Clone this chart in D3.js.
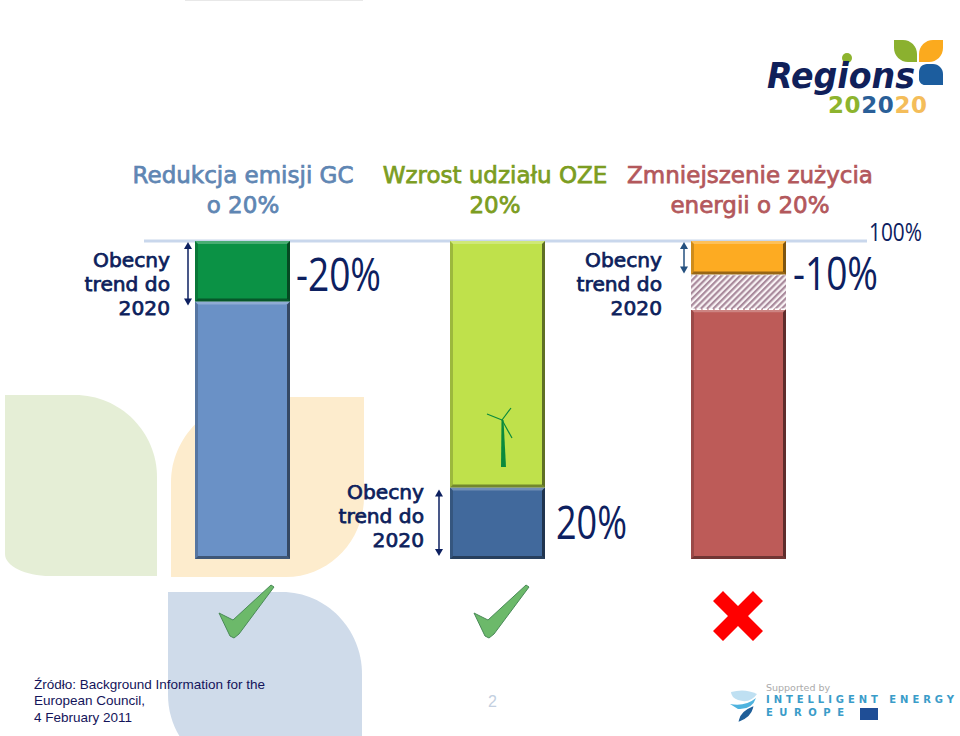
<!DOCTYPE html>
<html>
<head>
<meta charset="utf-8">
<script src="https://cdn.jsdelivr.net/npm/d3@7"></script>
<style>
html, body { margin: 0; padding: 0; background: #fff; }
svg { display: block; }
text { font-family: "DejaVu Sans", sans-serif; }
.head { font-size: 23px; text-anchor: middle; stroke-width: 0.75; }
.trend { font-size: 20.2px; fill: #0d1f5c; stroke: #0d1f5c; stroke-width: 0.75; text-anchor: end; }
.big { font-family: "Open Sans", sans-serif; font-size: 46px; fill: #0d2060; }
.src { font-family: "Liberation Sans", sans-serif; font-size: 13.5px; fill: #14145a; }
</style>
</head>
<body>
<svg id="chart" width="960" height="736"></svg>
<script>
// values, percent of the 100% line
var categories = ["Redukcja emisji GC", "Wzrost udziału OZE", "Zmniejszenie zużycia"];
var baseValues = [81, 22.5, 78.5];
var gapValues = [0, 0, 11];
var topValues = [19, 77.5, 10.5];
var baseColors = ["#6a91c6", "#41699c", "#bd5b58"];
var topColors = ["#0b9245", "#bfe14b", "#fdab22"];
var titleLines = [["Redukcja emisji GC", "o 20%"], ["Wzrost udziału OZE", "20%"], ["Zmniejszenie zużycia", "energii o 20%"]];
var titleColors = ["#5f86b3", "#7c9d22", "#b3585c"];
var trendLabel = ["Obecny", "trend do", "2020"];
var bigLabels = ["-20%", "20%", "-10%"];
var sourceLines = ["Źródło: Background Information for the", "European Council,", "4 February 2011"];

var svg = d3.select("#chart");

var y = d3.scaleLinear().domain([0, 100]).range([559, 241]);
var x = d3.scaleOrdinal().domain(categories).range([195, 450, 691]);
var barWidth = 95;

var defs = svg.append("defs");
var hatch = defs.append("pattern")
    .attr("id", "hatch")
    .attr("width", 4.4).attr("height", 4.4)
    .attr("patternUnits", "userSpaceOnUse")
    .attr("patternTransform", "rotate(-45)");
hatch.append("rect").attr("width", 4.4).attr("height", 4.4).attr("fill", "#f8f2f4");
hatch.append("rect").attr("width", 4.4).attr("height", 2.2).attr("fill", "#a98a9c");

// rounded leaf, each corner is [rx, ry] or nothing
function leaf(x0, y0, x1, y1, c) {
    var k = 0.45, p = d3.path();
    var tl = c.tl || [0, 0], tr = c.tr || [0, 0], br = c.br || [0, 0], bl = c.bl || [0, 0];
    p.moveTo(x0 + tl[0], y0);
    p.lineTo(x1 - tr[0], y0);
    p.bezierCurveTo(x1 - tr[0] * k, y0, x1, y0 + tr[1] * k, x1, y0 + tr[1]);
    p.lineTo(x1, y1 - br[1]);
    p.bezierCurveTo(x1, y1 - br[1] * k, x1 - br[0] * k, y1, x1 - br[0], y1);
    p.lineTo(x0 + bl[0], y1);
    p.bezierCurveTo(x0 + bl[0] * k, y1, x0, y1 - bl[1] * k, x0, y1 - bl[1]);
    p.lineTo(x0, y0 + tl[1]);
    p.bezierCurveTo(x0, y0 + tl[1] * k, x0 + tl[0] * k, y0, x0 + tl[0], y0);
    p.closePath();
    return p.toString();
}
var bg = svg.append("g");
bg.append("path").attr("d", leaf(5, 395, 157, 576, {tr: [82, 82], bl: [45, 22]})).attr("fill", "#e5eed6");
bg.append("path").attr("d", leaf(171, 397, 364, 577, {tl: [90, 85], br: [78, 80]})).attr("fill", "#fdeccd");
bg.append("path").attr("d", leaf(168, 592, 362, 775, {tr: [80, 82], bl: [80, 80]})).attr("fill", "#cfdbea");

svg.append("rect").attr("x", 185).attr("y", 0).attr("width", 178).attr("height", 1).attr("fill", "#e8e8e8");

// 100% line
svg.append("line")
    .attr("x1", 144).attr("x2", 867)
    .attr("y1", y(100)).attr("y2", y(100))
    .attr("stroke", "#c9d7ec").attr("stroke-width", 3);

// bevelled block
function block(g, x0, y0, x1, y1, fill) {
    var b = 3;
    g.append("rect").attr("x", x0).attr("y", y0).attr("width", x1 - x0).attr("height", y1 - y0).attr("fill", fill);
    var poly = function (pts, col, op) {
        g.append("polygon").attr("points", pts.join(" ")).attr("fill", col).attr("fill-opacity", op);
    };
    poly([[x0, y0], [x1, y0], [x1 - b, y0 + b], [x0 + b, y0 + b]], "#fff", 0.25);
    poly([[x0, y0], [x0 + b, y0 + b], [x0 + b, y1 - b], [x0, y1]], "#000", 0.18);
    poly([[x1, y0], [x1 - b, y0 + b], [x1 - b, y1 - b], [x1, y1]], "#000", 0.5);
    poly([[x0, y1], [x0 + b, y1 - b], [x1 - b, y1 - b], [x1, y1]], "#000", 0.4);
}

var bars = svg.append("g");
categories.forEach(function (c, i) {
    var left = x(c), right = left + barWidth;
    var g = bars.append("g").attr("class", "bar");
    block(g, left, y(baseValues[i]), right, y(0), baseColors[i]);
    if (gapValues[i] > 0) {
        var gy0 = y(baseValues[i] + gapValues[i]), gy1 = y(baseValues[i]);
        g.append("rect").attr("x", left).attr("y", gy0).attr("width", barWidth).attr("height", gy1 - gy0)
            .attr("fill", "url(#hatch)");
        g.append("line").attr("x1", left).attr("x2", right).attr("y1", gy1).attr("y2", gy1)
            .attr("stroke", "#fff").attr("stroke-width", 1.5).attr("stroke-dasharray", "4 2");
        g.append("line").attr("x1", left).attr("x2", right).attr("y1", gy0).attr("y2", gy0)
            .attr("stroke", "#fff").attr("stroke-width", 1.5).attr("stroke-dasharray", "4 2");
    }
    block(g, left, y(100), right, y(100 - topValues[i]), topColors[i]);
});

// titles
var titleX = [243, 495, 750];
titleLines.forEach(function (lines, i) {
    svg.selectAll(null).data(lines).enter().append("text")
        .attr("class", "head")
        .attr("x", titleX[i])
        .attr("y", function (d, k) { return 183 + k * 29.5; })
        .attr("fill", titleColors[i])
        .attr("stroke", titleColors[i])
        .text(function (d) { return d; });
});

// "Obecny trend do 2020" with its double arrow
function trend(tx, ty, ax, a0, a1, col) {
    svg.selectAll(null).data(trendLabel).enter().append("text")
        .attr("class", "trend")
        .attr("x", tx)
        .attr("y", function (d, k) { return ty + k * 24; })
        .text(function (d) { return d; });
    svg.append("line").attr("x1", ax).attr("x2", ax).attr("y1", a0 + 5).attr("y2", a1 - 5)
        .attr("stroke", col).attr("stroke-width", 1.5);
    svg.append("path").attr("d", "M" + ax + "," + a0 + "l4,7h-8z").attr("fill", col);
    svg.append("path").attr("d", "M" + ax + "," + a1 + "l4,-7h-8z").attr("fill", col);
}
trend(170, 267, 188, y(100) + 1, y(100 - topValues[0]) + 4, "#0d2060");
trend(662, 267, 684, y(100) + 1, y(100 - topValues[2]) - 1, "#24507f");
trend(424, 499, 439, y(baseValues[1]) + 2, y(0) - 3, "#0d2060");

// big labels
var bigPos = [[296, 291], [556, 539], [793, 290]];
bigLabels.forEach(function (t, i) {
    svg.append("text").attr("class", "big")
        .attr("x", bigPos[i][0]).attr("y", bigPos[i][1]).attr("textLength", i == 1 ? 71 : 85)
        .attr("lengthAdjust", "spacingAndGlyphs").text(t);
});
svg.append("text").attr("x", 869).attr("y", 241)
    .attr("font-size", 25).attr("fill", "#0d2060")
    .style("font-family", "'Open Sans', sans-serif")
    .attr("textLength", 53).attr("lengthAdjust", "spacingAndGlyphs").text("100%");

// wind turbine
var turbine = svg.append("g").attr("fill", "#0b8a3c").attr("stroke", "#0b8a3c");
turbine.append("path").attr("d", "M501.5,420L503.5,420L506,467L501,467Z").attr("stroke", "none");
turbine.append("path").attr("d", "M502,420L487,414M502,420L511,408M502,420L512,438").attr("fill", "none").attr("stroke-width", 1.2);

// check marks and cross
function check(dx) {
    svg.append("path")
        .attr("transform", "translate(" + dx + ",0)")
        .attr("d", "M219,613L233,620L271,585L274,587L239,634L234,638L230,636Z")
        .attr("fill", "#6cb96a").attr("stroke", "#4a8a58").attr("stroke-width", 1);
}
check(0);
check(255);
svg.append("path")
    .attr("d", "M713,601L723,591L738,606L753,591L763,601L748,616L763,631L753,641L738,626L723,641L713,631L728,616Z")
    .attr("fill", "#ff0000");

// source note
svg.selectAll(null).data(sourceLines).enter().append("text")
    .attr("class", "src")
    .attr("x", 34)
    .attr("y", function (d, k) { return 689 + k * 16.3; })
    .text(function (d) { return d; });

svg.append("text").attr("x", 488).attr("y", 707)
    .attr("font-size", 16).attr("fill", "#c3cfe0")
    .style("font-family", "'Liberation Sans', sans-serif").text("2");

// Regions 202020 logo
var logo = svg.append("g");
logo.append("circle").attr("cx", 847).attr("cy", 58).attr("r", 5).attr("fill", "#8db42e");
logo.append("path").attr("d", leaf(894, 40, 917, 62, {tr: [14, 14], bl: [14, 14]})).attr("fill", "#8bb12f");
logo.append("path").attr("d", leaf(919, 40, 943, 62, {tl: [14, 14], br: [14, 14]})).attr("fill", "#fbaa1e");
logo.append("path").attr("d", leaf(919, 64, 943, 85, {tl: [8, 8], tr: [10, 10], bl: [6, 6]})).attr("fill", "#1c5d9e");
logo.append("text").attr("x", 767).attr("y", 88)
    .attr("font-size", 36).attr("font-weight", "bold").attr("font-style", "italic").attr("fill", "#10205a")
    .attr("textLength", 148).attr("lengthAdjust", "spacingAndGlyphs").text("Regions");
var digits = "202020".split(""), digitColors = ["#8db42e", "#8db42e", "#2a5f98", "#2a5f98", "#f4bd5a", "#f4bd5a"];
var digitText = logo.append("text").attr("x", 828).attr("y", 113)
    .attr("font-size", 23).attr("font-weight", "bold").attr("letter-spacing", 0.6);
digits.forEach(function (d, i) {
    digitText.append("tspan").attr("fill", digitColors[i]).text(d);
});

// Intelligent Energy Europe logo
var iee = svg.append("g");
iee.append("text").attr("x", 766).attr("y", 691).attr("font-size", 9.5).attr("fill", "#aaa").text("Supported by");
iee.append("text").attr("x", 766).attr("y", 703).attr("font-size", 10).attr("font-weight", "bold").attr("fill", "#3a9cc9")
    .attr("textLength", 188).text("INTELLIGENT ENERGY");
iee.append("text").attr("x", 766).attr("y", 716).attr("font-size", 10).attr("font-weight", "bold").attr("fill", "#3a9cc9")
    .attr("textLength", 78).text("EUROPE");
iee.append("rect").attr("x", 860).attr("y", 708).attr("width", 18).attr("height", 12).attr("fill", "#1f4e96");
iee.append("path").attr("d", "M731,692Q745,688 757,694Q750,704 738,700Q731,697 731,692Z").attr("fill", "#bfe0f2");
iee.append("path").attr("d", "M730,704Q745,707 756,698Q752,710 738,709Z").attr("fill", "#4fb3de");
iee.append("path").attr("d", "M740,720Q742,712 752,708Q750,716 740,720Z").attr("fill", "#1f5f99").attr("stroke", "#1f5f99").attr("stroke-width", 2);
</script>
</body>
</html>
